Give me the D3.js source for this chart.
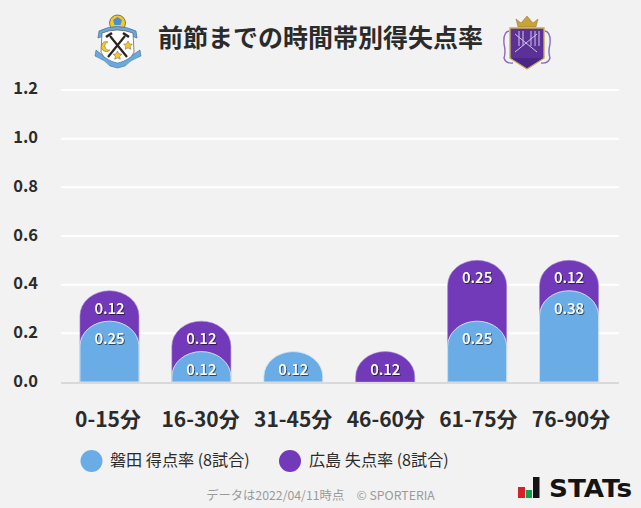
<!DOCTYPE html>
<html><head><meta charset="utf-8">
<script src="https://cdnjs.cloudflare.com/ajax/libs/d3/7.8.5/d3.min.js"></script>
<style>html,body{margin:0;padding:0;background:#f2f2f2}svg{display:block}text{font-family:"Noto Sans CJK JP","Noto Sans",sans-serif}</style>
</head><body><svg id="c" width="641" height="508"></svg>
<script>
const categories=["0-15分","16-30分","31-45分","46-60分","61-75分","76-90分"];
const homeValues=[0.25,0.125,0.125,0,0.25,0.375];
const awayValues=[0.125,0.125,0,0.125,0.25,0.125];
const homeLabels=["0.25","0.12","0.12","","0.25","0.38"];
const awayLabels=["0.12","0.12","","0.12","0.25","0.12"];
const yTicks=[0,0.2,0.4,0.6,0.8,1.0,1.2];
const titleText="前節までの時間帯別得失点率";
const legendItems=["磐田 得点率 (8試合)","広島 失点率 (8試合)"];
const footerText="データは2022/04/11時点　© SPORTERIA";
const BLUE="#6aace6",PURPLE="#723ab8",INK="#2b2b2b";

const svg=d3.select("#c");
const defs=svg.append("defs");
const f=defs.append("filter").attr("id","ts").attr("x","-20%").attr("y","-20%").attr("width","140%").attr("height","140%");
f.append("feDropShadow").attr("dx",0.8).attr("dy",0.8).attr("stdDeviation",0.5).attr("flood-color","#000").attr("flood-opacity",0.75);

const y=d3.scaleLinear().domain([0,1.2]).range([382,90]);
const yLabel=d3.scaleLinear().domain([0,1.2]).range([382.3,90]);
const x=d3.scaleBand().domain(categories).range([63.5,615]).paddingInner(0.358).paddingOuter(0.179);
const xLabel=d3.scalePoint().domain(categories).range([108,571]);

svg.append("g").selectAll("line").data(yTicks.filter(d=>d>0)).join("line")
 .attr("x1",61).attr("x2",619).attr("y1",d=>y(d)).attr("y2",d=>y(d)).attr("stroke","#fff").attr("stroke-width",2);

svg.append("g").selectAll("text").data(yTicks).join("text")
 .attr("x",38).attr("y",d=>yLabel(d)).attr("text-anchor","end").attr("dominant-baseline","middle")
 .attr("font-size",16.5).attr("font-weight",700).attr("fill",INK).text(d=>d3.format(".1f")(d));

function barPath(xl,w,top,bottom){
  const rx=w/2, ry=Math.min(25,bottom-top);
  return `M${xl},${bottom}V${top+ry}A${rx},${ry} 0 0 1 ${xl+w},${top+ry}V${bottom}Z`;
}
const rows=categories.map((c,i)=>({c,h:homeValues[i],a:awayValues[i],hl:homeLabels[i],al:awayLabels[i]}));
const bars=svg.append("g");
bars.selectAll("path.away").data(rows.filter(d=>d.a>0)).join("path").attr("class","away")
 .attr("d",d=>barPath(x(d.c),x.bandwidth(),y(d.h+d.a),y(0))).attr("fill",PURPLE).attr("stroke","#a887d8").attr("stroke-width",0.6);
bars.selectAll("path.home").data(rows.filter(d=>d.h>0)).join("path").attr("class","home")
 .attr("d",d=>barPath(x(d.c),x.bandwidth(),y(d.h),y(0))).attr("fill",BLUE).attr("stroke","#d6e8f8").attr("stroke-width",0.9);

svg.append("line").attr("x1",61).attr("x2",619).attr("y1",y(0)+1).attr("y2",y(0)+1).attr("stroke","#d9d9d9").attr("stroke-width",2);

const lab=svg.append("g").attr("filter","url(#ts)").attr("fill","#fff").attr("font-size",15).attr("font-weight",500).attr("text-anchor","middle").attr("dominant-baseline","middle");
lab.selectAll("text.a").data(rows.filter(d=>d.a>0)).join("text").attr("class","a")
 .attr("x",d=>x(d.c)+x.bandwidth()/2).attr("y",d=>y(d.h+d.a)+19).text(d=>d.al);
lab.selectAll("text.h").data(rows.filter(d=>d.h>0)).join("text").attr("class","h")
 .attr("x",d=>x(d.c)+x.bandwidth()/2).attr("y",d=>y(d.h)+19).text(d=>d.hl);

svg.append("g").selectAll("text").data(categories).join("text")
 .attr("x",d=>xLabel(d)).attr("y",421).attr("text-anchor","middle").attr("dominant-baseline","middle")
 .attr("font-size",21).attr("font-weight",700).attr("fill",INK).text(d=>d);

svg.append("text").attr("x",320.5).attr("y",40).attr("text-anchor","middle").attr("dominant-baseline","middle")
 .attr("font-size",25).attr("font-weight",700).attr("fill",INK).text(titleText);

const legX=[91.5,290], legTextX=[110,309], legColor=[BLUE,PURPLE];
const lg=svg.append("g").selectAll("g").data(legendItems).join("g");
lg.append("ellipse").attr("cx",(d,i)=>legX[i]).attr("cy",461).attr("rx",11).attr("ry",11).attr("fill",(d,i)=>legColor[i]);
lg.append("text").attr("x",(d,i)=>legTextX[i]).attr("y",461.5).attr("dominant-baseline","middle")
 .attr("font-size",16.1).attr("fill",INK).text(d=>d);

svg.append("text").attr("x",320.5).attr("y",497).attr("text-anchor","middle").attr("dominant-baseline","middle")
 .attr("font-size",12.3).attr("fill","#9a9a9a").text(footerText);

const st=svg.append("g");
st.append("rect").attr("x",518).attr("y",487).attr("width",7).attr("height",11).attr("fill","#d6202a");
st.append("rect").attr("x",526).attr("y",490).attr("width",6).attr("height",8).attr("fill","#14a04a");
st.append("rect").attr("x",533).attr("y",477).attr("width",6.5).attr("height",21).attr("fill","#141414");
st.append("text").attr("x",549).attr("y",497).style("font-family","'DejaVu Sans',sans-serif")
 .attr("font-size",25).attr("font-weight",700).attr("fill","#141414").attr("textLength",83).attr("lengthAdjust","spacingAndGlyphs").text("STATs");

// Jubilo crest
const j=svg.append("g");
j.append("circle").attr("cx",117.5).attr("cy",23).attr("r",8).attr("fill","#f3c72f").attr("stroke","#333").attr("stroke-width",0.6);
j.append("path").attr("d","M113,20l4.5,-3l4.5,3l-1.5,5h-6z").attr("fill","#4a8fd0");
j.append("path").attr("d","M99,31Q117,22 136,31L137,38Q117,29 98,38Z").attr("fill","#6aa9dc").attr("stroke","#2c5f95").attr("stroke-width",0.6);
j.append("path").attr("d","M102,33Q117,27 133,33L134,52Q130,62 117.5,67Q105,62 101,52Z").attr("fill","#fff").attr("stroke","#555").attr("stroke-width",0.7);
j.append("path").attr("d","M110,36L127,57M125,36L108,57").attr("stroke","#2a2320").attr("stroke-width",2.2).attr("fill","none");
j.append("path").attr("d","M106,37l6,-4M129,37l-6,-4").attr("stroke","#2a2320").attr("stroke-width",2.6);
j.append("path").attr("d","M108,42a5,5 0 1 0 2,8a4,4 0 1 1 -2,-8Z").attr("fill","#f3c72f").attr("stroke","#444").attr("stroke-width",0.4);
j.append("path").attr("d","M128,41l1.4,2.8l3,.4l-2.2,2.1l.6,3l-2.8,-1.4l-2.8,1.4l.6,-3l-2.2,-2.1l3,-.4z").attr("fill","#f3c72f").attr("stroke","#444").attr("stroke-width",0.4);
j.append("path").attr("d","M117.5,51l1.4,2.8l3,.4l-2.2,2.1l.6,3l-2.8,-1.4l-2.8,1.4l.6,-3l-2.2,-2.1l3,-.4z").attr("fill","#f3c72f").attr("stroke","#444").attr("stroke-width",0.4);
j.append("path").attr("d","M96,50L101,54Q108,61 117.5,63Q127,61 134,54L140,50L141,56Q130,60 125,66L117.5,68L110,66Q105,60 95,56Z").attr("fill","#6aa9dc").attr("stroke","#2c5f95").attr("stroke-width",0.5);

// Sanfrecce crest
const s=svg.append("g");
s.append("path").attr("d","M509,31Q503,32 504,44Q506,52 504,58Q506,64 513,63M545,31Q551,32 550,44Q548,52 550,58Q548,64 541,63").attr("fill","none").attr("stroke","#8a6bc0").attr("stroke-width",1.4);
s.append("path").attr("d","M516,19l5,4l6,-7l6,7l5,-4l-2,8h-18z").attr("fill","#c9a23a").attr("stroke","#7a5c1d").attr("stroke-width",0.4);
s.append("path").attr("d","M510,28H544V58L527,69L510,58Z").attr("fill","#5c3197").attr("stroke","#c9ab55").attr("stroke-width",1.4);
s.append("path").attr("d","M519,31V46M523,31V46M531,31V46M535,31V46M539,31V46").attr("stroke","#a994cc").attr("stroke-width",1.5);
s.append("path").attr("d","M515,34L537,52M515,52L537,34").attr("stroke","#cfc3e4").attr("stroke-width",1);
s.append("path").attr("d","M511,58H543L527,68Z").attr("fill","#4b2684");
</script></body></html>
